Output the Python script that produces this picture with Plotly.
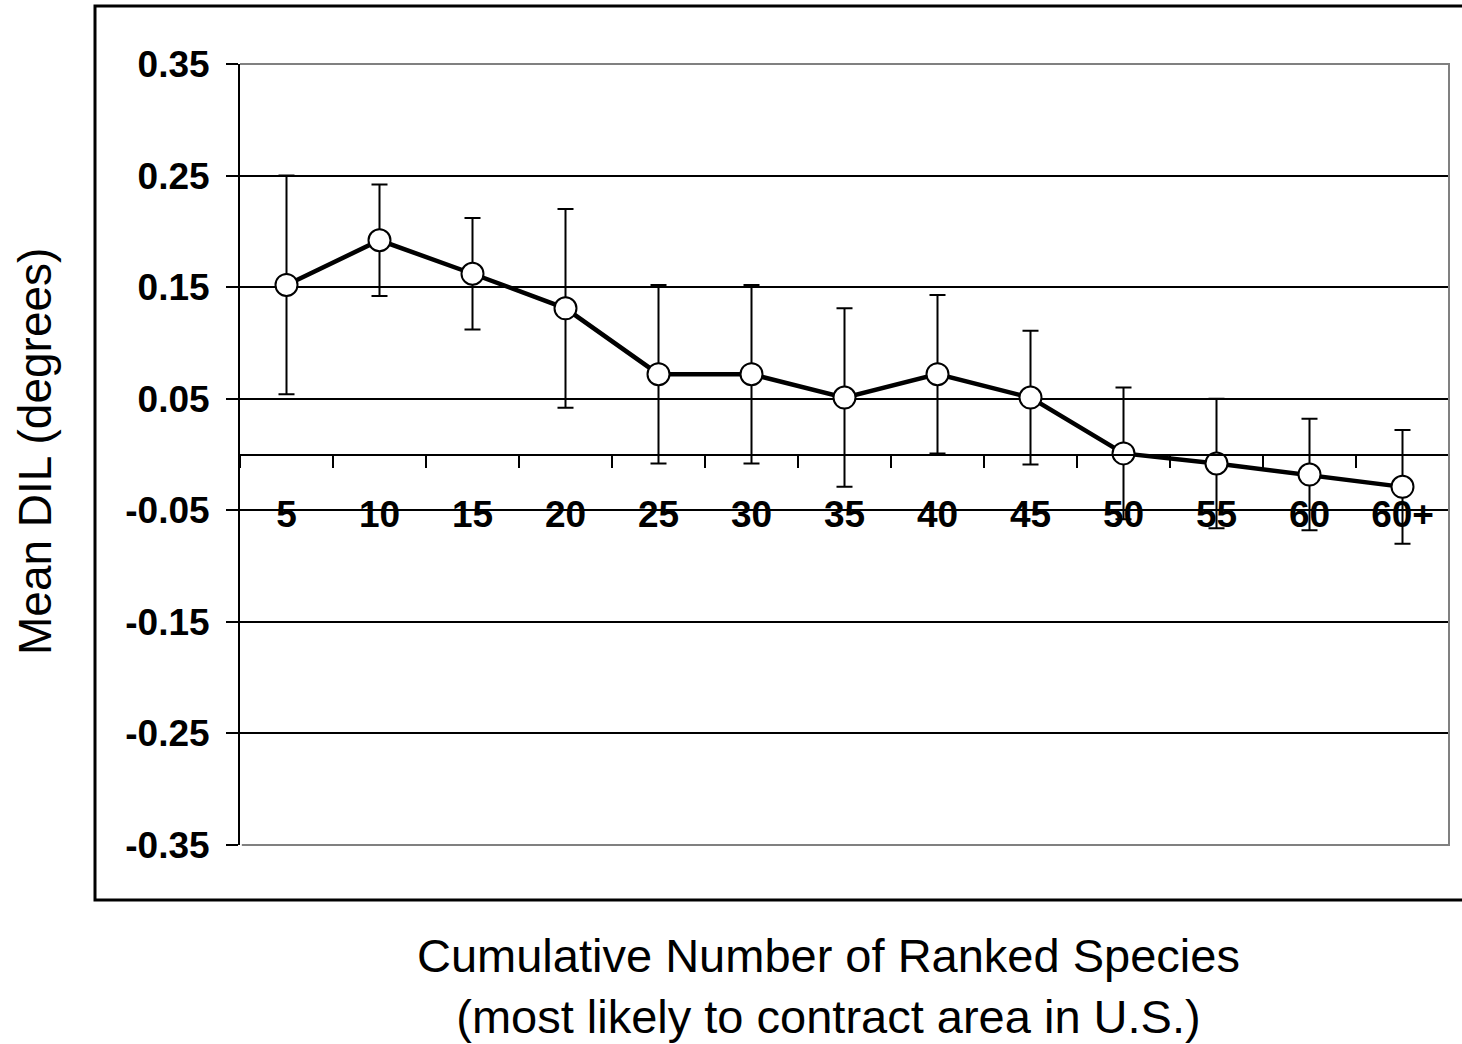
import plotly.graph_objects as go

categories = ["5", "10", "15", "20", "25", "30", "35", "40", "45", "50", "55", "60", "60+"]
mean_dil = [0.152, 0.192, 0.162, 0.131, 0.072, 0.072, 0.051, 0.072, 0.051, 0.001, -0.008, -0.018, -0.029]
error = [0.098, 0.050, 0.050, 0.089, 0.080, 0.080, 0.080, 0.071, 0.060, 0.059, 0.058, 0.050, 0.051]
y_ticks = [0.35, 0.25, 0.15, 0.05, -0.05, -0.15, -0.25, -0.35]
y_ticktext = ["0.35", "0.25", "0.15", "0.05", "-0.05", "-0.15", "-0.25", "-0.35"]
grid_vals = [0.25, 0.15, 0.05, -0.05, -0.15, -0.25]

FONT = "Arial, 'Liberation Sans', sans-serif"

L, R, T, B = 240, 13, 64, 199
W, H = 1462, 1044
PW = W - L - R
PH = H - T - B

def px_x(x):
    return (x - L) / PW

def px_y(y):
    return (H - B - y) / PH

fig = go.Figure()
fig.add_trace(go.Scatter(
    x=categories, y=mean_dil, mode="lines+markers",
    line=dict(color="black", width=4.5),
    marker=dict(size=22, color="white", line=dict(color="black", width=2)),
    error_y=dict(type="data", array=error, visible=True, color="black", thickness=2, width=8),
    showlegend=False, cliponaxis=False,
))
# invisible trace on overlay axis to carry gridlines
fig.add_trace(go.Scatter(x=categories, y=mean_dil, yaxis="y2", mode="markers",
                         marker=dict(opacity=0), showlegend=False, hoverinfo="skip"))

fig.update_layout(
    width=W, height=H,
    margin=dict(l=L, r=R, t=T, b=B),
    paper_bgcolor="white", plot_bgcolor="rgba(0,0,0,0)",
    font=dict(family=FONT, color="black"),
    xaxis=dict(
        type="category", range=[-0.5, 12.5],
        anchor="free", position=0.5,
        showline=True, linecolor="black", linewidth=2,
        ticks="outside", ticklen=12, tickwidth=2, tickcolor="black",
        tickson="boundaries", showgrid=False,
        tickfont=dict(family=FONT, size=37, color="black", weight="bold"),
        ticklabelstandoff=27,
    ),
    yaxis=dict(
        range=[-0.35, 0.35], domain=[0, 1],
        tickvals=y_ticks, ticktext=y_ticktext,
        showgrid=False, zeroline=False,
        showline=True, linecolor="black", linewidth=2,
        ticks="outside", ticklen=12, tickwidth=2, tickcolor="black",
        tickfont=dict(family=FONT, size=37, color="black", weight="bold"),
        ticklabelstandoff=9,
    ),
    yaxis2=dict(
        range=[-0.35, 0.35], overlaying="y", side="left",
        tickvals=grid_vals, showticklabels=False,
        showgrid=True, gridcolor="black", gridwidth=2, zeroline=False,
        showline=False, ticks="",
    ),
    shapes=[
        dict(type="path", xref="paper", yref="paper",
             path="M 0,1 L 1,1 L 1,0 L 0.0015,0", line=dict(color="#808080", width=2), layer="above"),
        dict(type="rect", xref="paper", yref="paper",
             x0=px_x(95), x1=1.05, y0=px_y(900), y1=px_y(6),
             line=dict(color="black", width=3), layer="below"),
    ],
    annotations=[
        dict(text="Mean DIL (degrees)", xref="paper", yref="paper",
             x=px_x(35), y=px_y(452), textangle=-90,
             showarrow=False, xanchor="center", yanchor="middle",
             font=dict(family=FONT, size=46, color="black")),
        dict(text="Cumulative Number of Ranked Species<br>(most likely to contract area in U.S.)",
             xref="paper", yref="paper",
             x=px_x(828), y=px_y(986),
             showarrow=False, xanchor="center", yanchor="middle",
             font=dict(family=FONT, size=47, color="black")),
    ],
)

fig.write_html("out.html", config={"displayModeBar": False},
               post_script="document.body.style.margin='0px';")
